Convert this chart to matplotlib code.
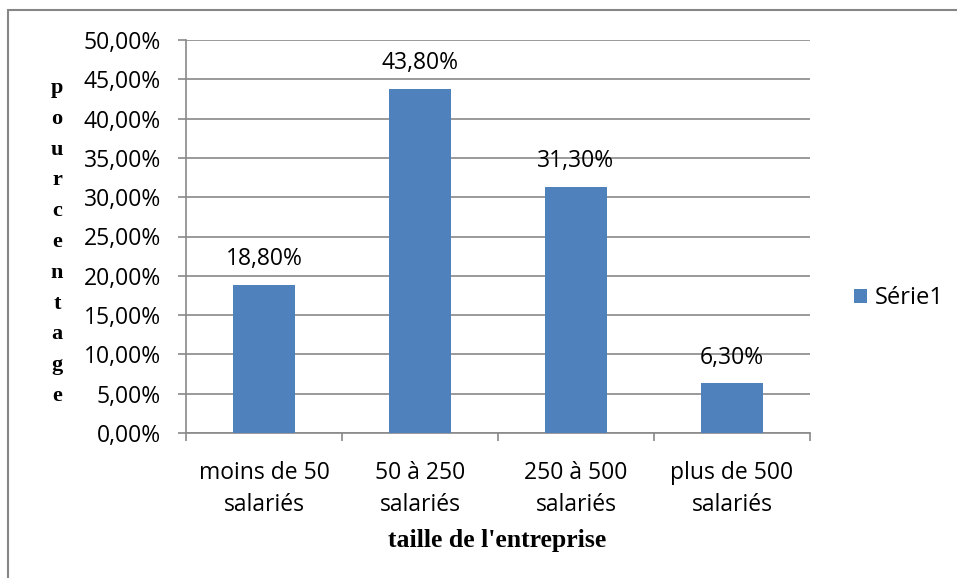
import numpy as np
import matplotlib.pyplot as plt
from matplotlib.patches import Rectangle

# =========================
# DATA
# =========================

categories = ["moins de 50\nsalariés", "50 à 250\nsalariés", "250 à 500\nsalariés", "plus de 500\nsalariés"]
values = [18.8, 43.8, 31.3, 6.3]
series_name = "Série1"
yticks = np.arange(0, 55, 5)

bar_color = "#4F81BD"
grid_color = "#898989"
font = "Open Sans"

# =========================
# FIGURE
# =========================

fig = plt.figure(figsize=(9.57, 5.78), dpi=100)
W, H = 957, 578

# outer border of the chart area
fig.patches.append(Rectangle((8 / W, -0.05), (W + 20) / W, (H - 10) / H + 0.05,
                             transform=fig.transFigure, fill=False,
                             edgecolor="#868686", linewidth=1.5))

ax = fig.add_axes([186 / W, 1 - 433 / H, (810 - 186) / W, (433 - 40) / H])

x = np.arange(len(categories))
bars = ax.bar(x, values, width=0.4, color=bar_color, label=series_name, zorder=3)

ax.set_xlim(-0.5, len(categories) - 0.5)
ax.set_ylim(0, 50)

ax.set_yticks(yticks)
ax.set_yticklabels([f"{v:.2f}%".replace(".", ",") for v in yticks],
                   fontsize=16.5, family=font)
ax.yaxis.grid(True, color=grid_color, linewidth=1.2, zorder=0)

ax.set_xticks(np.arange(-0.5, len(categories), 1.0))
ax.set_xticklabels([])
ax.set_xticks(x, minor=True)
ax.set_xticklabels(categories, minor=True, fontsize=16.5, family=font, linespacing=1.45)
ax.tick_params(axis="x", which="minor", length=0, pad=20)
ax.tick_params(axis="x", which="major", length=6, color=grid_color, width=1.2)
ax.tick_params(axis="y", length=6, color=grid_color, width=1.2, pad=12)

for side in ["top", "right"]:
    ax.spines[side].set_visible(False)
for side in ["left", "bottom"]:
    ax.spines[side].set_color(grid_color)
    ax.spines[side].set_linewidth(1.2)

# data labels
for b, v in zip(bars, values):
    ax.annotate(f"{v:.2f}%".replace(".", ","),
                (b.get_x() + b.get_width() / 2, v),
                xytext=(0, 10), textcoords="offset points",
                ha="center", va="bottom", fontsize=16.5, family=font)

# stacked y label
ylab = "pourcentage"
for i, ch in enumerate(ylab):
    fig.text(57 / W, 1 - (88 + i * 30.8) / H, ch, ha="center", va="center",
             fontsize=16, fontweight="bold", family="Liberation Serif")

fig.text(497 / W, 1 - 541 / H, "taille de l'entreprise", ha="center", va="center",
         fontsize=18.5, fontweight="bold", family="Liberation Serif")

ax.legend(loc="center left", bbox_to_anchor=(842 / W, 1 - 298 / H),
          bbox_transform=fig.transFigure, frameon=False,
          prop={"family": font, "size": 17},
          handlelength=0.55, handleheight=0.55, handletextpad=0.35, borderpad=0)

fig.savefig("out.png", dpi=100)
